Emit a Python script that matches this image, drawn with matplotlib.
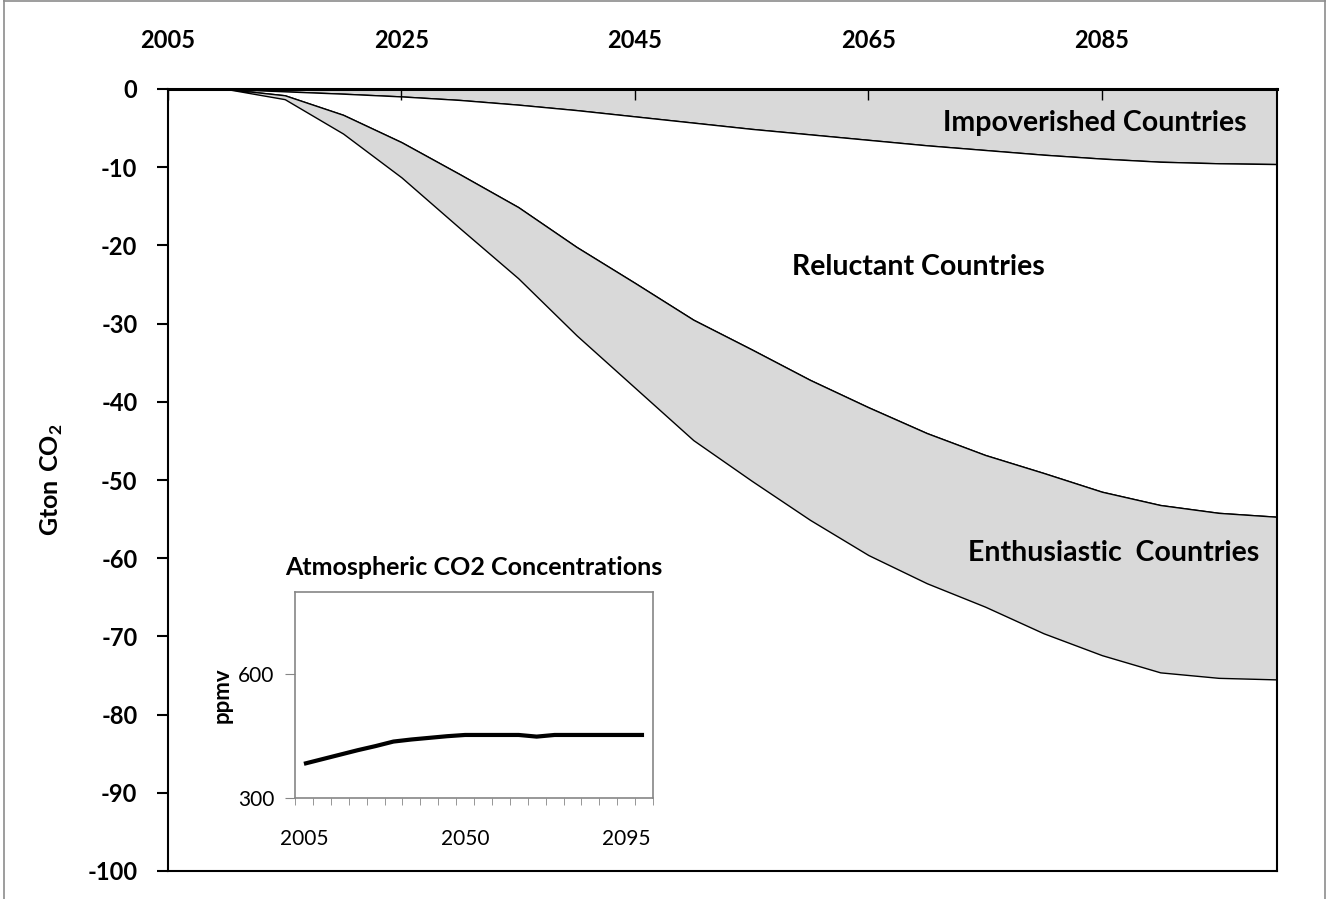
import matplotlib
matplotlib.use('Agg')
import matplotlib.pyplot as plt
from matplotlib.lines import Line2D
import numpy as np

plt.rcParams['font.family'] = ['Lato', 'DejaVu Sans']
plt.rcParams['mathtext.fontset'] = 'custom'
plt.rcParams['mathtext.rm'] = 'Lato'
plt.rcParams['mathtext.bf'] = 'Lato:bold'

# main chart: emission reductions (Gton CO2), stacked by country group
years = [2010, 2015, 2020, 2025, 2030, 2035, 2040, 2045, 2050, 2055,
         2060, 2065, 2070, 2075, 2080, 2085, 2090, 2095, 2100]
impoverished = [0, -0.3, -0.6, -0.95, -1.4, -2.0, -2.7, -3.5, -4.3, -5.1,
                -5.8, -6.5, -7.2, -7.8, -8.4, -8.9, -9.3, -9.5, -9.6]
reluctant = [0, -0.5, -2.7, -5.85, -9.5, -13.1, -17.5, -21.3, -25.2, -28.2,
             -31.4, -34.2, -36.8, -39.0, -40.7, -42.6, -43.9, -44.7, -45.1]
enthusiastic = [0, -0.5, -2.4, -4.5, -6.9, -9.1, -11.3, -13.4, -15.4, -16.8,
                -17.9, -18.9, -19.2, -19.4, -20.5, -20.9, -21.4, -21.1, -20.8]
x_ticks = [2005, 2025, 2045, 2065, 2085]
y_ticks = [0, -10, -20, -30, -40, -50, -60, -70, -80, -90, -100]

# inset: atmospheric CO2 concentration (ppmv)
co2_years = [2005, 2010, 2015, 2020, 2025, 2030, 2035, 2040, 2045, 2050,
             2055, 2060, 2065, 2070, 2075, 2080, 2085, 2090, 2095, 2100]
co2_ppmv = [383, 394, 405, 416, 426, 437, 442, 446, 450, 453,
            453, 453, 453, 449, 453, 453, 453, 453, 453, 453]
co2_labels = ['2005', '2050', '2095']

fig = plt.figure(figsize=(13.3, 8.99), dpi=100)

# light grey chart-area border
for xs, ys in [([0.003, 0.003], [0, 1]), ([0.9965, 0.9965], [0, 1]), ([0.003, 0.9965], [0.999, 0.999])]:
    fig.add_artist(Line2D(xs, ys, color='#8c8c8c', lw=1.2, transform=fig.transFigure))

ax = fig.add_axes([168 / 1330, 1 - 871 / 899, (1277 - 168) / 1330, (871 - 89) / 899])
ax.stackplot(years, impoverished, reluctant, enthusiastic,
             colors=['#d9d9d9', 'white', '#d9d9d9'], edgecolor='black', linewidth=1.0)

ax.set_xlim(2005, 2100)
ax.set_ylim(-100, 0)
ax.xaxis.tick_top()
ax.set_xticks(x_ticks)
ax.set_xticklabels([str(v) for v in x_ticks], fontweight='bold', fontsize=17)
ax.set_yticks(y_ticks)
ax.set_yticklabels([str(v) for v in y_ticks], fontweight='bold', fontsize=17)
ax.tick_params(axis='x', direction='in', length=8, width=1, pad=27)
ax.tick_params(axis='y', direction='out', length=8, width=1.5, pad=14)
for s in ['left', 'bottom', 'right']:
    ax.spines[s].set_linewidth(1.5)
ax.spines['top'].set_linewidth(2.2)
ax.set_ylabel('$\\mathbf{Gton\\ CO}_\\mathbf{2}$', fontsize=18, labelpad=16)

ax.text(2097.4, -4.4, 'Impoverished Countries', ha='right', va='center', fontweight='bold', fontsize=20.5)
ax.text(2069.3, -22.8, 'Reluctant Countries', ha='center', va='center', fontweight='bold', fontsize=20.5)
ax.text(2098.5, -59.3, 'Enthusiastic  Countries', ha='right', va='center', fontweight='bold', fontsize=20.5)

# inset chart
axi = fig.add_axes([295 / 1330, 1 - 798 / 899, (653 - 295) / 1330, (798 - 592) / 899])
axi.set_facecolor('white')
cat = np.arange(len(co2_years))
axi.plot(cat, co2_ppmv, color='black', lw=3.0, solid_capstyle='butt')
axi.set_xlim(-0.5, len(co2_years) - 0.5)
axi.set_ylim(300, 800)
axi.set_yticks([300, 600])
axi.set_yticklabels(['300', '600'], fontsize=15)
axi.set_xticks([co2_years.index(int(l)) for l in co2_labels])
axi.set_xticklabels(co2_labels, fontsize=15)
axi.set_xticks(np.arange(len(co2_years) + 1) - 0.5, minor=True)
axi.tick_params(axis='x', which='major', length=0, pad=22)
axi.tick_params(axis='x', which='minor', length=5, color='#868686', direction='out')
axi.tick_params(axis='y', length=7, color='#868686', direction='out', pad=8)
for s in axi.spines.values():
    s.set_color('#868686')
    s.set_linewidth(1.2)
axi.set_ylabel('ppmv', fontweight='bold', fontsize=16, labelpad=4)
axi.set_title('Atmospheric CO2 Concentrations', fontweight='bold', fontsize=18, pad=12)

fig.savefig('out.png', dpi=100)
